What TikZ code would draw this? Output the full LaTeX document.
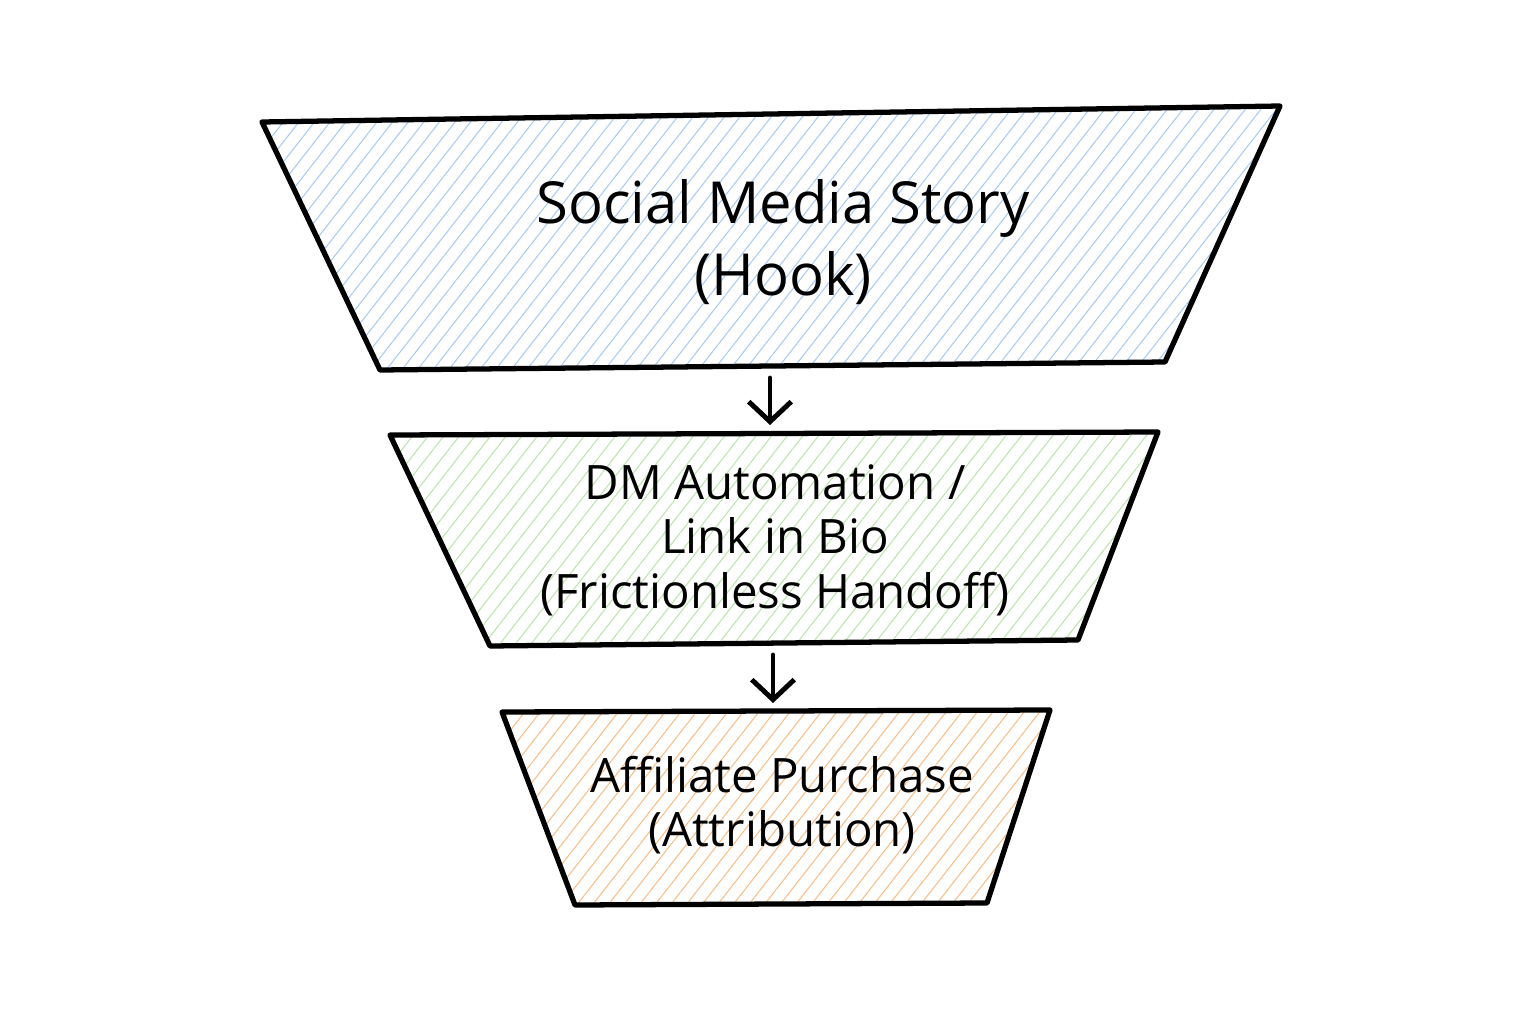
\documentclass[tikz,border=0pt]{standalone}
\usepackage{fontspec}
\setmainfont{Open Sans}
\usetikzlibrary{arrows.meta,patterns.meta}
\definecolor{sky}{HTML}{A9CBF3}
\definecolor{sage}{HTML}{BFE2AE}
\definecolor{peach}{HTML}{F7BE8A}
\tikzset{>={Straight Barb[length=4mm,width=8.5mm]},stage/.style={draw=black,line width=3pt,line join=round,pattern={Lines[angle=52,distance=7pt,line width=0.6pt]}},big/.style={font=\fontsize{33}{41}\selectfont,align=center},small/.style={font=\fontsize{27}{31}\selectfont,align=center},arr/.style={->,line width=2.8pt,line cap=round,shorten <=0.24cm,shorten >=0.16cm}}

\begin{document}
\begin{tikzpicture}[x=0.02cm,y=-0.02cm]
\useasboundingbox (0,0) rectangle (1536,1024);
% the three funnel stages
\draw[stage,pattern color=sky] (262,122) -- (1280,106) -- (1165,362) -- (380,370) -- cycle;
\draw[stage,pattern color=sage] (390,435) -- (1158,432) -- (1078,640) -- (490,646) -- cycle;
\draw[stage,pattern color=peach] (502,712) -- (1050,710) -- (987,903) -- (575,905) -- cycle;
\node[big] (hook) at (783,242) {Social Media Story\\(Hook)};
\node[small] (dm) at (775,540) {DM Automation /\\Link in Bio\\(Frictionless Handoff)};
\node[small] (buy) at (782,805) {Affiliate Purchase\\(Attribution)};
% hand-off points between stages
\coordinate (hookout) at (770,366);
\coordinate (dmin) at (770,433);
\coordinate (dmout) at (773,643);
\coordinate (buyin) at (773,711);
\draw[arr] (hookout)--(dmin);\draw[arr] (dmout)--(buyin);
\end{tikzpicture}
\end{document}
